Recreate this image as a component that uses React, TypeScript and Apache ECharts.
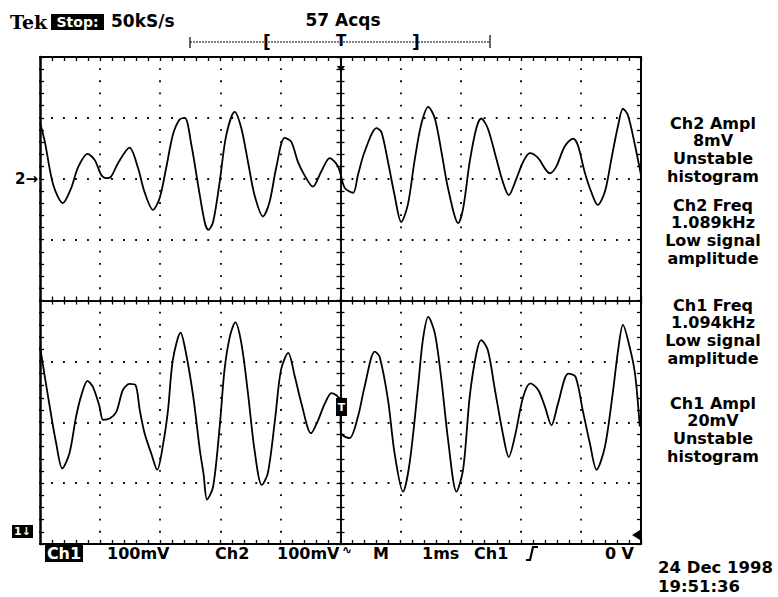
import React, { useEffect, useRef } from "react";
import * as echarts from "echarts";

// Time axis in divisions (1 ms/div, 10 divisions), amplitude in divisions (8 divisions, centre = 0)
const ch2X = [0.0, 0.08, 0.22, 0.38, 0.52, 0.63, 0.79, 0.91, 1.02, 1.10, 1.18, 1.30, 1.49, 1.63, 1.74, 1.88, 1.99, 2.10, 2.21, 2.32, 2.41, 2.52, 2.63, 2.74, 2.80, 2.88, 2.99, 3.10, 3.24, 3.35, 3.46, 3.57, 3.71, 3.82, 3.93, 4.07, 4.18, 4.29, 4.40, 4.54, 4.68, 4.82, 4.96, 5.07, 5.21, 5.29, 5.40, 5.60, 5.68, 5.79, 5.90, 6.01, 6.12, 6.23, 6.34, 6.46, 6.57, 6.68, 6.79, 6.96, 7.04, 7.15, 7.26, 7.34, 7.45, 7.59, 7.70, 7.80, 7.93, 8.04, 8.15, 8.29, 8.40, 8.48, 8.59, 8.73, 8.87, 8.95, 9.06, 9.17, 9.28, 9.40, 9.51, 9.62, 9.70, 9.78, 9.90, 10.0];
const ch2Y = [2.92, 2.61, 1.90, 1.60, 1.85, 2.18, 2.41, 2.31, 2.06, 2.01, 2.03, 2.26, 2.51, 2.18, 1.78, 1.49, 1.68, 2.18, 2.72, 2.97, 3.00, 2.55, 1.90, 1.29, 1.16, 1.29, 1.95, 2.72, 3.10, 2.83, 2.28, 1.73, 1.38, 1.62, 2.18, 2.67, 2.61, 2.28, 2.06, 1.87, 2.12, 2.34, 2.20, 1.85, 1.77, 2.06, 2.44, 2.83, 2.77, 2.28, 1.73, 1.29, 1.57, 2.28, 2.88, 3.18, 2.99, 2.44, 1.84, 1.27, 1.51, 2.28, 2.83, 2.99, 2.83, 2.34, 1.95, 1.73, 2.01, 2.28, 2.42, 2.34, 2.17, 2.09, 2.20, 2.53, 2.66, 2.55, 2.12, 1.79, 1.57, 1.79, 2.34, 2.88, 3.15, 3.05, 2.55, 2.06];

const ch1X = [0.0, 0.08, 0.19, 0.27, 0.37, 0.49, 0.60, 0.69, 0.79, 0.88, 0.99, 1.05, 1.16, 1.27, 1.38, 1.49, 1.59, 1.66, 1.74, 1.85, 1.95, 2.05, 2.13, 2.21, 2.34, 2.43, 2.55, 2.66, 2.72, 2.78, 2.88, 2.99, 3.07, 3.16, 3.25, 3.35, 3.46, 3.57, 3.69, 3.79, 3.91, 4.01, 4.13, 4.24, 4.35, 4.51, 4.63, 4.74, 4.85, 4.99, 5.01, 5.15, 5.29, 5.40, 5.57, 5.65, 5.79, 5.90, 6.04, 6.15, 6.29, 6.37, 6.46, 6.57, 6.68, 6.79, 6.93, 7.04, 7.15, 7.26, 7.34, 7.45, 7.57, 7.70, 7.80, 7.90, 8.04, 8.16, 8.29, 8.40, 8.51, 8.62, 8.79, 8.91, 9.03, 9.15, 9.26, 9.40, 9.53, 9.62, 9.70, 9.81, 9.90, 9.98];
const ch1Y = [-0.76, -1.25, -1.91, -2.35, -2.76, -2.51, -1.91, -1.55, -1.32, -1.42, -1.74, -1.96, -1.94, -1.83, -1.47, -1.37, -1.39, -1.80, -2.18, -2.51, -2.78, -2.35, -1.80, -0.98, -0.53, -0.87, -1.58, -2.46, -2.84, -3.27, -3.06, -2.07, -1.14, -0.59, -0.36, -0.70, -1.52, -2.46, -3.03, -2.84, -1.96, -1.14, -0.86, -1.25, -1.69, -2.18, -1.96, -1.69, -1.52, -1.63, -2.18, -2.26, -1.91, -1.42, -0.84, -0.92, -1.63, -2.51, -3.14, -2.67, -1.42, -0.65, -0.27, -0.54, -1.31, -2.29, -3.14, -2.78, -1.58, -0.87, -0.65, -0.81, -1.47, -2.18, -2.57, -2.24, -1.58, -1.36, -1.47, -1.74, -2.05, -1.69, -1.20, -1.25, -1.80, -2.35, -2.78, -2.40, -1.52, -0.81, -0.40, -0.76, -1.20, -2.07];

const rightBlocks = [
  ["Ch2 Ampl", "8mV", "Unstable", "histogram"],
  ["Ch2 Freq", "1.089kHz", "Low signal", "amplitude"],
  ["Ch1 Freq", "1.094kHz", "Low signal", "amplitude"],
  ["Ch1 Ampl", "20mV", "Unstable", "histogram"],
];
const bottomLabels = ["100mV", "Ch2", "100mV", "M", "1ms", "Ch1"];
const dateLines = ["24 Dec 1998", "19:51:36"];

const BLACK = "#000";

function edgeAxis(position: string, inside: boolean, offset: number, split: boolean, isX: boolean, lw: number) {
  return {
    type: "value",
    position,
    offset,
    min: isX ? 0 : -4,
    max: isX ? 10 : 4,
    interval: 1,
    axisLine: { show: true, onZero: false, lineStyle: { color: BLACK, width: lw } },
    axisTick: { show: true, inside, length: 4, lineStyle: { color: BLACK, width: 1.3 } },
    minorTick: { show: true, splitNumber: 5, length: 4, lineStyle: { color: BLACK, width: 1.3 } },
    axisLabel: { show: false },
    splitLine: split
      ? {
          show: true,
          lineStyle: {
            color: BLACK,
            width: 1.8,
            type: isX ? [1.8, 10.375] : [1.8, 10.22],
            dashOffset: 0.9,
          },
        }
      : { show: false },
  };
}

export default function App() {
  const ref = useRef<HTMLDivElement>(null);
  useEffect(() => {
    if (!ref.current) return;
    const chart = echarts.init(ref.current, undefined, { renderer: "svg" });
    const fontB = (s: number) => `bold ${s}px "DejaVu Sans"`;
    const txt = (text: string, x: number, y: number, size: number, align = "left", fill = BLACK, z = 10, extra: any = {}) => ({
      type: "text",
      x,
      y,
      z,
      style: { text, font: fontB(size), fill, align, verticalAlign: "middle", ...extra },
    });
    const blockFirst = [123, 205, 305, 403];
    const lineStep = 17.7;
    const bottomX = [107, 215, 277, 373, 422, 474];
    const panel: any[] = [];
    rightBlocks.forEach((b, i) =>
      b.forEach((line, j) =>
        panel.push(txt(line, 713, blockFirst[i] + j * lineStep, 16, "center", BLACK, 10, { lineHeight: 16 }))
      )
    );
    const graphic: any[] = [
      // header
      { type: "text", x: 10, y: 22, z: 10, style: { text: "Tek", font: 'bold 19px "DejaVu Serif"', fill: BLACK, verticalAlign: "middle" } },
      { type: "rect", z: 9, shape: { x: 51, y: 14, width: 53, height: 16 }, style: { fill: BLACK } },
      txt("Stop:", 77.5, 22, 14, "center", "#fff", 11),
      txt("50kS/s", 111, 21, 17),
      txt("57 Acqs", 343, 20, 17, "center"),
      // record view bar
      { type: "line", shape: { x1: 190, y1: 42, x2: 490, y2: 42 }, style: { stroke: BLACK, lineWidth: 1, lineDash: [2, 1] } },
      { type: "line", shape: { x1: 190, y1: 37, x2: 190, y2: 48 }, style: { stroke: BLACK, lineWidth: 1.2 } },
      { type: "line", shape: { x1: 490, y1: 35, x2: 490, y2: 48 }, style: { stroke: BLACK, lineWidth: 1.2 } },
      txt("[", 267, 42, 17, "center"),
      txt("T", 341, 41, 15, "center"),
      txt("]", 416, 42, 17, "center"),
      // trigger position arrow at top of graticule
      { type: "line", shape: { x1: 341, y1: 57, x2: 341, y2: 72 }, style: { stroke: BLACK, lineWidth: 1.5 } },
      { type: "polygon", shape: { points: [[337, 66], [345, 66], [341, 72]] }, style: { fill: BLACK } },
      // channel markers
      txt("2→", 38, 179, 15, "right"),
      { type: "rect", z: 9, shape: { x: 12, y: 525, width: 21, height: 13 }, style: { fill: BLACK } },
      txt("1↓", 22.5, 531.5, 11, "center", "#fff", 11),
      // trigger point marker
      { type: "rect", z: 20, shape: { x: 336, y: 398, width: 11, height: 18 }, style: { fill: BLACK } },
      txt("T", 341.5, 407, 11, "center", "#fff", 21),
      // trigger level marker on right
      { type: "polygon", shape: { points: [[632, 535], [640, 530], [640, 540]] }, style: { fill: BLACK } },
      // bottom readout
      { type: "rect", z: 9, shape: { x: 45, y: 545, width: 38, height: 17 }, style: { fill: BLACK } },
      txt("Ch1", 64, 553.5, 16, "center", "#fff", 11),
      ...bottomLabels.map((t, i) => txt(t, bottomX[i], 553.5, 16)),
      txt("∿", 347, 550, 12, "center"),
      { type: "polyline", shape: { points: [[526, 560], [530, 560], [533, 547], [538, 547]] }, style: { stroke: BLACK, lineWidth: 2.2, fill: "none" } },
      txt("0 V", 634, 553.5, 16, "right"),
      // date
      txt(dateLines[0], 658, 567.5, 16.5, "left", BLACK, 10, { lineHeight: 16 }),
      txt(dateLines[1], 658, 586, 16.5, "left", BLACK, 10, { lineHeight: 16 }),
      // right measurement panel
      ...panel,
    ];

    chart.setOption({
      animation: false,
      backgroundColor: "#fff",
      grid: { left: 40, top: 57, width: 601, height: 487, show: false },
      xAxis: [
        edgeAxis("bottom", true, 0, true, true, 2.2),
        edgeAxis("top", true, 0, false, true, 2),
        edgeAxis("top", false, -243.5, false, true, 1.5),
        edgeAxis("bottom", false, -243.5, false, true, 1.5),
      ],
      yAxis: [
        edgeAxis("left", true, 0, true, false, 2.5),
        edgeAxis("right", true, 0, false, false, 2),
        edgeAxis("left", false, -300.5, false, false, 1.5),
        edgeAxis("right", false, -300.5, false, false, 1.5),
      ],
      series: [
        {
          type: "line",
          name: "Ch2",
          xAxisIndex: 0,
          yAxisIndex: 0,
          showSymbol: false,
          smooth: 0.3,
          lineStyle: { color: BLACK, width: 1.8 },
          data: ch2X.map((x, i) => [x, ch2Y[i]]),
          z: 5,
        },
        {
          type: "line",
          name: "Ch1",
          xAxisIndex: 0,
          yAxisIndex: 0,
          showSymbol: false,
          smooth: 0.3,
          lineStyle: { color: BLACK, width: 1.8 },
          data: ch1X.map((x, i) => [x, ch1Y[i]]),
          z: 5,
        },
      ],
      graphic,
    });
    return () => chart.dispose();
  }, []);
  return (
    <div
      ref={ref}
      style={{ position: "fixed", left: 0, top: 0, width: 778, height: 597, background: "#fff" }}
    />
  );
}
